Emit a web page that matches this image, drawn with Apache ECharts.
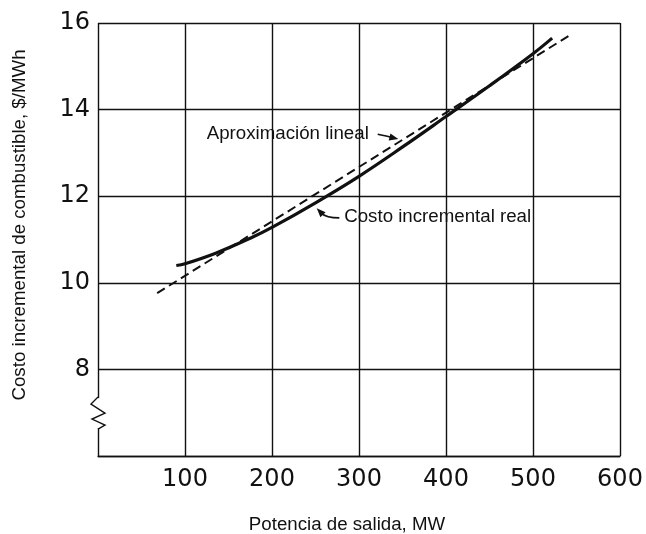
<!DOCTYPE html>
<html><head><meta charset="utf-8">
<script src="https://cdn.jsdelivr.net/npm/echarts@6/dist/echarts.min.js"></script>
<style>html,body{margin:0;padding:0;background:#fff}#c{width:646px;height:534px}</style>
</head><body><div id="c"></div>
<script>
// ---- data ----
const realX = [90, 100, 136, 175, 200, 251, 300, 351, 400, 450, 500, 522];
const realY = [10.40, 10.44, 10.69, 11.03, 11.28, 11.86, 12.46, 13.15, 13.84, 14.55, 15.29, 15.65];
const linX = [68, 544];
const linY = [9.76, 15.74];
const xTicks = [0, 100, 200, 300, 400, 500, 600];
const yTicks = [6, 8, 10, 12, 14, 16];
const xTitle = 'Potencia de salida, MW';
const yTitle = 'Costo incremental de combustible, $/MWh';
const noteLin = 'Aproximación lineal';
const noteReal = 'Costo incremental real';
const noteLinPos = [125, 13.45];
const noteRealPos = [283, 11.52];
// arrows: start, control, tip (data units)
const arrowLin = [[321.5, 13.43], [333, 13.38], [345.2, 13.32]];
const arrowReal = [[277.4, 11.50], [262.1, 11.50], [251.4, 11.72]];
const breakAt = [0, 7.36];

const ink = '#111';
const chart = echarts.init(document.getElementById('c'), null, {renderer: 'canvas'});
const zig = [[0,0],[-7,7],[7,16],[-6,22],[7,28],[0,32]];

function arrowItem(params, api) {
  const s = api.coord([api.value(0), api.value(1)]);
  const c = api.coord([api.value(2), api.value(3)]);
  const t = api.coord([api.value(4), api.value(5)]);
  const dx = t[0] - c[0], dy = t[1] - c[1];
  const L = Math.hypot(dx, dy) || 1;
  const ux = dx / L, uy = dy / L;
  const len = 9, hw = 3.6;
  const bx = t[0] - ux * len, by = t[1] - uy * len;
  return {type: 'group', children: [
    {type: 'bezierCurve', shape: {x1: s[0], y1: s[1], cpx1: c[0], cpy1: c[1], x2: bx + ux*2, y2: by + uy*2},
      style: {stroke: ink, lineWidth: 1.7, fill: null}},
    {type: 'polygon', shape: {points: [[t[0], t[1]], [bx - uy*hw, by + ux*hw], [bx + uy*hw, by - ux*hw]]},
      style: {fill: ink}}
  ]};
}

chart.setOption({
  animation: false,
  backgroundColor: '#fff',
  grid: {left: 98, right: 26, top: 23, bottom: 78},
  xAxis: {
    type: 'value', min: xTicks[0], max: xTicks[xTicks.length-1], interval: 100,
    axisLine: {show: true, lineStyle: {color: ink, width: 1.4}},
    axisTick: {show: false},
    axisLabel: {margin: 12, color: ink, fontFamily: 'DejaVu Sans', fontSize: 24,
      formatter: v => v === 0 ? '' : String(v)},
    splitLine: {show: true, lineStyle: {color: ink, width: 1.4}}
  },
  yAxis: {
    type: 'value', min: yTicks[0], max: yTicks[yTicks.length-1], interval: 2,
    axisLine: {show: false},
    axisTick: {show: false},
    axisLabel: {margin: 8, color: ink, fontFamily: 'DejaVu Sans', fontSize: 24,
      formatter: v => v === 6 ? '' : String(v)},
    splitLine: {show: true, lineStyle: {color: ink, width: 1.4}}
  },
  series: [
    {
      type: 'line', name: 'real', data: realX.map((x, i) => [x, realY[i]]),
      smooth: 0.4, symbol: 'none', lineStyle: {color: ink, width: 3.2}, z: 3
    },
    {
      type: 'line', name: 'lin', data: linX.map((x, i) => [x, linY[i]]),
      symbol: 'none', lineStyle: {color: ink, width: 2, type: [9, 5]}, z: 3
    },
    {
      type: 'custom', z: 5,
      data: [arrowLin, arrowReal].map(a => [a[0][0], a[0][1], a[1][0], a[1][1], a[2][0], a[2][1]]),
      encode: {x: [0, 2, 4], y: [1, 3, 5]},
      renderItem: arrowItem
    },
    {
      type: 'custom', data: [breakAt], z: 4,
      renderItem: (params, api) => {
        const p = api.coord([api.value(0), api.value(1)]);
        return {type: 'group', children: [
          {type: 'rect', shape: {x: p[0]-2, y: p[1]+1, width: 4, height: 30}, style: {fill: '#fff'}},
          {type: 'polyline', shape: {points: zig.map(d => [p[0]+d[0], p[1]+d[1]])},
            style: {stroke: ink, lineWidth: 1.4, fill: null}}
        ]};
      }
    }
  ]
});

const a = chart.convertToPixel({gridIndex: 0}, noteLinPos);
const b = chart.convertToPixel({gridIndex: 0}, noteRealPos);
const txt = {fill: ink, fontFamily: 'Liberation Sans', fontSize: 18.7, verticalAlign: 'middle'};
chart.setOption({
  graphic: [
    {type: 'text', x: a[0], y: a[1], style: Object.assign({text: noteLin, align: 'left'}, txt)},
    {type: 'text', x: b[0], y: b[1], style: Object.assign({text: noteReal, align: 'left'}, txt)},
    {type: 'text', x: 347, y: 525, style: Object.assign({text: xTitle, align: 'center'}, txt)},
    {type: 'text', x: 20, y: 225, rotation: Math.PI/2, style: Object.assign({text: yTitle, align: 'center'}, txt)}
  ]
});
</script></body></html>
